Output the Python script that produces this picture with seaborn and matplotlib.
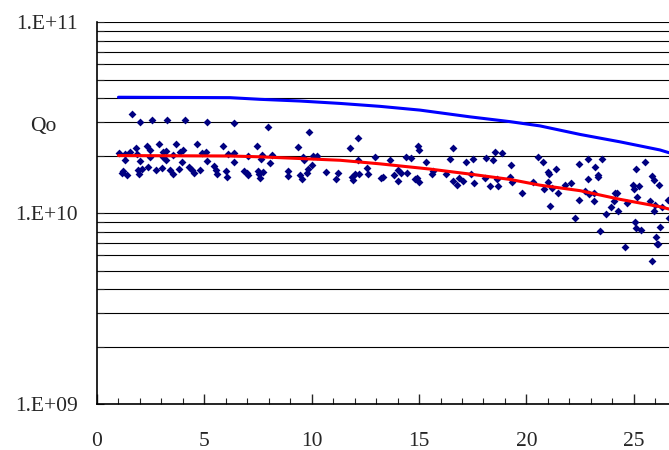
import matplotlib
matplotlib.use("Agg")
import matplotlib.pyplot as plt
import matplotlib.ticker as mticker
import pandas as pd
import seaborn as sns

# observed points (x, Qo in units of 1e10)
t_obs = [
    1.62, 2.00, 2.56, 3.25, 4.08, 5.11, 6.39,
    1.02, 1.30, 1.54, 1.80, 1.85, 2.31, 2.47, 2.90, 3.06, 3.21, 3.53, 3.68, 3.87, 4.02, 4.67,
    4.88, 5.08, 5.88, 6.12, 6.39,
    1.30, 2.00, 2.47, 3.09, 3.21, 3.94, 5.11, 6.39,
    1.22, 1.15, 1.38, 1.92, 1.97, 2.08, 2.39, 2.75, 3.03, 3.40, 3.53, 3.82, 4.30, 4.41, 4.52,
    4.80, 5.45, 5.54, 5.60, 6.01, 6.04, 6.85,
    7.95, 9.89, 12.16, 7.44, 9.38, 11.78, 7.05, 7.67, 8.14, 9.61, 10.07, 10.26, 12.95, 7.64,
    9.64, 12.17, 8.04, 10.00, 12.56, 9.84, 6.97, 7.05, 7.51, 7.56, 7.75, 7.59, 8.91, 8.91,
    9.45, 9.53, 9.77, 10.67, 11.21, 11.13, 11.86, 11.94, 12.02, 12.19, 12.64, 13.30, 13.22,
    14.94, 15.00, 16.57, 18.54, 18.85, 14.38, 14.61, 13.65, 16.44, 17.50, 18.12, 18.46, 15.31,
    17.19, 19.27, 14.03, 14.15, 14.43, 13.85, 15.59, 15.66, 16.26, 17.41, 16.87, 16.57,
    16.78, 17.03, 17.57, 14.81, 14.92, 15.01, 14.03, 18.07, 18.62, 18.30, 18.69, 19.24, 19.31,
    19.81,
    20.55, 20.76, 21.02, 21.07, 21.36, 20.29, 20.82, 21.02, 21.18, 21.49, 21.10, 21.80, 22.06,
    22.26, 22.45, 22.43, 22.87, 22.88, 22.72, 22.93, 23.20, 23.51, 23.32, 23.35, 23.15, 23.15,
    23.43, 23.69, 23.93, 24.13, 24.20, 24.09, 24.28, 24.59, 24.67, 24.95, 25.01, 25.10, 25.24,
    25.17, 25.05, 25.10, 25.32, 25.54, 25.84, 25.94, 26.18, 25.76, 25.99, 25.96, 26.22, 26.04,
    26.07, 26.14, 25.84, 26.58, 26.30, 26.62,
]
qo_obs = [
    3.30, 3.01, 3.06, 3.06, 3.06, 3.01, 2.95,
    2.07, 2.05, 2.10, 2.18, 2.03, 2.25, 2.13, 2.29, 2.10, 2.11, 2.01, 2.29, 2.10, 2.13, 2.29,
    2.07, 2.10, 2.25, 2.03, 2.07,
    1.89, 1.88, 1.97, 1.97, 1.89, 1.86, 1.88, 1.84,
    1.66, 1.63, 1.58, 1.68, 1.61, 1.71, 1.75, 1.68, 1.73, 1.68, 1.61, 1.71, 1.75, 1.68, 1.63,
    1.68, 1.77, 1.68, 1.61, 1.66, 1.55, 1.66,
    2.82, 2.67, 2.46, 2.25, 2.21, 2.18, 2.00, 2.01, 2.01, 1.97, 2.00, 2.00, 1.97, 1.92,
    1.89, 1.89, 1.82, 1.78, 1.73, 1.71, 1.63, 1.59, 1.66, 1.61, 1.64, 1.53, 1.66, 1.57,
    1.59, 1.51, 1.63, 1.64, 1.63, 1.51, 1.55, 1.49, 1.61, 1.61, 1.61, 1.55, 1.53,
    2.25, 2.13, 2.18, 2.10, 2.06, 1.97, 1.95, 1.89, 1.92, 1.92, 1.94, 1.89, 1.86,
    1.84, 1.78, 1.68, 1.63, 1.63, 1.59, 1.61, 1.66, 1.61, 1.61, 1.53, 1.48,
    1.41, 1.48, 1.43, 1.51, 1.52, 1.45, 1.48, 1.53, 1.50, 1.38, 1.38, 1.55, 1.45,
    1.28,
    1.97, 1.84, 1.64, 1.61, 1.71, 1.45, 1.34, 1.45, 1.36, 1.28, 1.09, 1.40, 1.43,
    0.946, 1.80, 1.17, 1.91, 1.51, 1.31, 1.26, 1.75, 1.91, 1.58, 1.54, 1.28, 1.16,
    0.807, 0.988, 1.07, 1.27, 1.28, 1.16, 1.02, 0.666, 1.13, 1.40, 1.34, 1.70, 1.38,
    1.21, 0.90, 0.84, 0.82, 1.84, 1.57, 1.49, 1.40, 1.15, 1.10, 1.02, 0.85, 0.75,
    0.69, 0.69, 0.562, 1.17, 1.08, 0.94,
]

# upper (blue) curve
t_upper = [1.0, 6.19, 7.59, 9.45, 11.32, 13.18, 15.04, 17.37, 19.24, 20.63, 22.5, 24.36, 26.22, 26.64]
qo_upper = [4.04, 4.02, 3.94, 3.86, 3.75, 3.62, 3.46, 3.19, 3.01, 2.86, 2.58, 2.36, 2.14, 2.07]

# lower (red) curve
t_lower = [1.0, 6.19, 7.59, 9.45, 11.32, 13.18, 15.5, 17.37, 19.24, 20.63, 22.5, 24.36, 26.22, 26.64]
qo_lower = [2.00, 1.99, 1.97, 1.93, 1.89, 1.81, 1.70, 1.60, 1.50, 1.40, 1.31, 1.18, 1.08, 1.05]

scale = 1e10
obs = pd.DataFrame({"t": t_obs, "qo": [v * scale for v in qo_obs]})
upper = pd.DataFrame({"t": t_upper, "qo": [v * scale for v in qo_upper]})
lower = pd.DataFrame({"t": t_lower, "qo": [v * scale for v in qo_lower]})

sns.set_style("white")
plt.rcParams["font.family"] = ["Liberation Serif", "DejaVu Serif"]

fig = plt.figure(figsize=(6.69, 4.5), dpi=100)
ax = fig.add_axes([0.145, 0.102, 0.855, 0.849])

ax.set_yscale("log")
ax.set_ylim(1e9, 1e11)
ax.set_xlim(0, 26.64)

ax.grid(True, which="both", axis="y", color="black", linewidth=0.8)
ax.set_axisbelow(True)

sns.scatterplot(data=obs, x="t", y="qo", marker="D", s=16, color="#000080",
                linewidth=0, ax=ax, zorder=3)
sns.lineplot(data=upper, x="t", y="qo", color="#0000FF", linewidth=2.2, ax=ax, zorder=4)
sns.lineplot(data=lower, x="t", y="qo", color="#FF0000", linewidth=2.2, ax=ax, zorder=4)

ax.set_xlabel("")
ax.set_ylabel("")

ax.xaxis.set_major_locator(mticker.MultipleLocator(5))
ax.xaxis.set_minor_locator(mticker.MultipleLocator(1))
ax.yaxis.set_major_locator(mticker.FixedLocator([1e9, 1e10, 1e11]))
ax.yaxis.set_major_formatter(mticker.FixedFormatter(["1.E+09", "1.E+10", "1.E+11"]))
ax.yaxis.set_minor_locator(mticker.LogLocator(base=10, subs=range(2, 10)))
ax.yaxis.set_minor_formatter(mticker.NullFormatter())

ax.tick_params(axis="x", which="major", direction="in", length=7, width=1, pad=20,
               labelsize=15.5, bottom=True)
ax.tick_params(axis="x", which="minor", direction="in", length=4, width=0.8, bottom=True)
ax.tick_params(axis="y", which="both", direction="in", length=5, width=0.8, pad=14,
               labelsize=15.5, left=True)

for side in ["top", "right"]:
    ax.spines[side].set_visible(False)
for side in ["left", "bottom"]:
    ax.spines[side].set_color("black")
    ax.spines[side].set_linewidth(1.2)

fig.text(0.064, 0.718, "Qo", fontsize=15.5, ha="center", va="center")

fig.savefig("out.png", dpi=100)
